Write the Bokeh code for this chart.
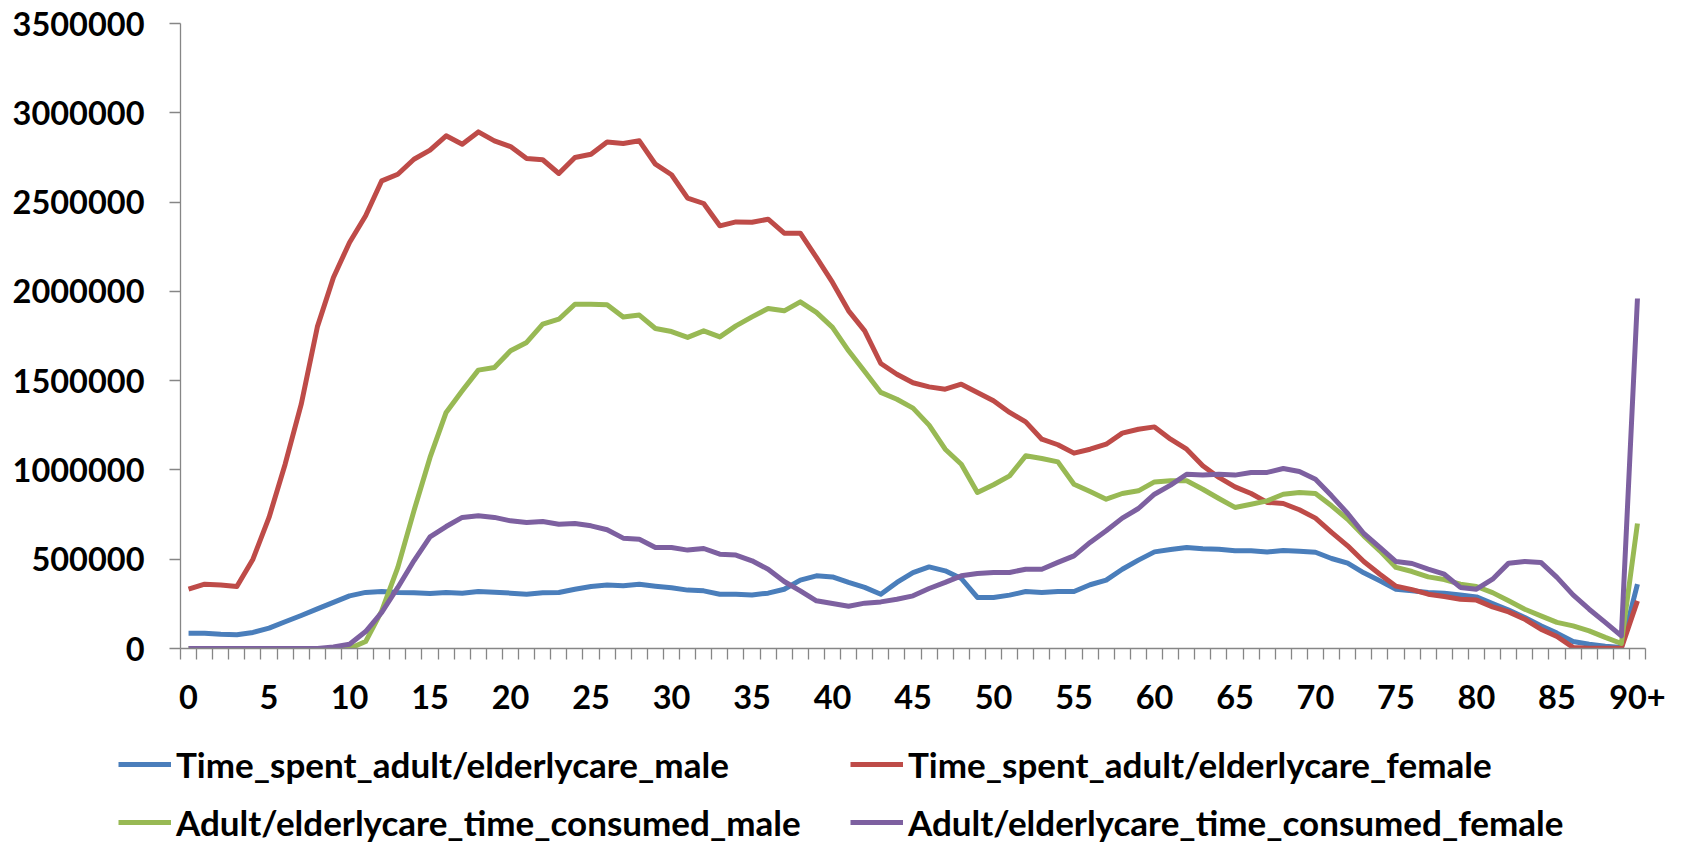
from bokeh.plotting import figure
from bokeh.models import FixedTicker, Legend, LegendItem, Range1d, NumeralTickFormatter
from bokeh.embed import file_html
from bokeh.resources import INLINE

ages = list(range(91))
age_labels = [str(a) for a in range(90)] + ["90+"]
x_label_ticks = list(range(0, 91, 5))
y_ticks = [0, 500000, 1000000, 1500000, 2000000, 2500000, 3000000, 3500000]

series_names = [
    "Time_spent_adult/elderlycare_male",
    "Time_spent_adult/elderlycare_female",
    "Adult/elderlycare_time_consumed_male",
    "Adult/elderlycare_time_consumed_female",
]

male_spent = [86000, 86000, 80000, 77000, 90000, 114000, 150000, 185000, 222000, 258000,
              295000, 314000, 319000, 314000, 312000, 308000, 314000, 310000, 319000, 315000,
              310000, 304000, 312000, 314000, 332000, 347000, 355000, 351000, 360000, 349000,
              340000, 327000, 323000, 304000, 304000, 300000, 310000, 332000, 383000, 407000,
              401000, 370000, 342000, 304000, 370000, 425000, 457000, 435000, 392000, 286000,
              286000, 299000, 319000, 314000, 319000, 319000, 357000, 383000, 444000, 495000,
              541000, 554000, 566000, 558000, 556000, 547000, 547000, 541000, 549000, 545000,
              539000, 504000, 478000, 424000, 379000, 332000, 323000, 314000, 310000, 300000,
              289000, 252000, 215000, 174000, 127000, 86000, 39000, 24000, 13000, 6000,
              360000]

female_spent = [332000, 360000, 355000, 347000, 500000, 734000, 1032000, 1368000, 1801000, 2078000,
                2274000, 2423000, 2619000, 2656000, 2740000, 2791000, 2871000, 2824000, 2893000, 2843000,
                2811000, 2744000, 2737000, 2660000, 2750000, 2768000, 2837000, 2828000, 2843000, 2712000,
                2653000, 2522000, 2492000, 2367000, 2389000, 2387000, 2404000, 2326000, 2326000, 2190000,
                2050000, 1891000, 1779000, 1596000, 1536000, 1488000, 1465000, 1452000, 1480000, 1434000,
                1387000, 1322000, 1269000, 1172000, 1141000, 1094000, 1116000, 1144000, 1206000, 1228000,
                1241000, 1172000, 1116000, 1023000, 958000, 905000, 868000, 818000, 812000, 777000,
                730000, 650000, 575000, 487000, 416000, 349000, 330000, 304000, 291000, 276000,
                271000, 233000, 205000, 164000, 108000, 67000, 6000, 2000, 2000, 2000,
                267000]

male_consumed = [0, 0, 0, 0, 0, 0, 0, 0, 0, 0,
                 0, 39000, 211000, 454000, 771000, 1070000, 1322000, 1443000, 1559000, 1574000,
                 1667000, 1714000, 1816000, 1844000, 1928000, 1928000, 1925000, 1857000, 1867000, 1792000,
                 1775000, 1742000, 1779000, 1745000, 1807000, 1857000, 1904000, 1891000, 1941000, 1882000,
                 1798000, 1667000, 1551000, 1434000, 1396000, 1346000, 1251000, 1116000, 1032000, 874000,
                 917000, 967000, 1079000, 1064000, 1045000, 920000, 879000, 836000, 868000, 883000,
                 933000, 939000, 939000, 892000, 840000, 790000, 808000, 827000, 864000, 874000,
                 868000, 799000, 724000, 631000, 547000, 454000, 431000, 401000, 386000, 360000,
                 347000, 313000, 267000, 220000, 183000, 146000, 127000, 99000, 62000, 28000,
                 700000]

female_consumed = [0, 0, 0, 0, 0, 0, 0, 0, 0, 9000,
                   24000, 95000, 202000, 342000, 491000, 625000, 683000, 734000, 743000, 734000,
                   715000, 706000, 711000, 696000, 700000, 687000, 665000, 618000, 612000, 566000,
                   566000, 551000, 560000, 528000, 523000, 491000, 444000, 375000, 323000, 267000,
                   252000, 237000, 254000, 261000, 276000, 295000, 336000, 370000, 407000, 420000,
                   426000, 426000, 444000, 444000, 482000, 519000, 594000, 659000, 730000, 784000,
                   864000, 915000, 976000, 971000, 976000, 971000, 986000, 986000, 1008000, 991000,
                   948000, 855000, 756000, 644000, 566000, 487000, 476000, 444000, 416000, 342000,
                   332000, 388000, 478000, 487000, 482000, 398000, 300000, 220000, 146000, 71000,
                   1960000]

all_series = [male_spent, female_spent, male_consumed, female_consumed]
colors = ["#4A7EBB", "#BE4B48", "#98B954", "#7D60A0"]

FONT = "Lato"
FS = "32.5px"
LFS = "35px"
W = 1670
TOP, FH, BOT = 23, 625, 80

p = figure(frame_width=1465, frame_height=FH,
           x_range=Range1d(-0.5, 90.5), y_range=Range1d(0, 3500000),
           output_backend="svg", toolbar_location=None,
           min_border_left=180, min_border_top=TOP, min_border_right=25, min_border_bottom=BOT)
p.outline_line_color = None
p.xgrid.visible = False
p.ygrid.visible = False

for ys, c in zip(all_series, colors):
    p.line(ages, ys, line_color=c, line_width=5, line_join="round")

# x axis
xa = p.xaxis[0]
xa.ticker = FixedTicker(ticks=x_label_ticks, minor_ticks=[i - 0.5 for i in range(92)])
xa.major_label_overrides = {i: age_labels[i] for i in x_label_ticks}
xa.major_tick_out = 0
xa.major_tick_in = 0
xa.minor_tick_out = 11
xa.minor_tick_in = 0
xa.minor_tick_line_color = "#868686"
xa.minor_tick_line_width = 1.3
xa.axis_line_color = "#868686"
xa.axis_line_width = 1.3
xa.major_label_standoff = 25
xa.major_label_text_font = FONT
xa.major_label_text_font_style = "bold"
xa.major_label_text_font_size = FS
xa.major_label_text_color = "black"

# y axis
ya = p.yaxis[0]
ya.ticker = FixedTicker(ticks=y_ticks)
ya.formatter = NumeralTickFormatter(format="0")
ya.major_tick_out = 11
ya.major_tick_in = 0
ya.minor_tick_out = 0
ya.minor_tick_in = 0
ya.major_tick_line_color = "#868686"
ya.major_tick_line_width = 1.3
ya.axis_line_color = "#868686"
ya.axis_line_width = 1.3
ya.major_label_standoff = 25
ya.major_label_text_font = FONT
ya.major_label_text_font_style = "bold"
ya.major_label_text_font_size = FS
ya.major_label_text_color = "black"

# legend strip below the chart (separate root, full width frame)
LH = 845 - (TOP + FH + BOT)
p2 = figure(width=W, height=LH, x_range=Range1d(0, W), y_range=Range1d(0, LH),
            output_backend="svg", toolbar_location=None,
            min_border_left=0, min_border_right=0, min_border_top=0, min_border_bottom=0,
            x_axis_location=None, y_axis_location=None)
p2.outline_line_color = None
p2.xgrid.visible = False
p2.ygrid.visible = False
swatches = [p2.line(ages, ys, line_color=c, line_width=5, visible=False)
            for ys, c in zip(all_series, colors)]


def make_legend(idx, vx, vy):
    items = [LegendItem(label=series_names[i], renderers=[swatches[i]]) for i in idx]
    lg = Legend(items=items, location=(vx, vy), orientation="vertical",
                glyph_width=53, glyph_height=42, label_height=42, label_width=10,
                label_standoff=5, spacing=16, padding=0, margin=0,
                border_line_alpha=0, background_fill_alpha=0,
                inactive_fill_alpha=0,
                label_text_font=FONT, label_text_font_style="bold",
                label_text_font_size=LFS, label_text_color="black")
    p2.add_layout(lg)


make_legend([0, 2], 118, 2)
make_legend([1, 3], 850, 2)

open("out.html", "w").write(file_html([p, p2], INLINE))
